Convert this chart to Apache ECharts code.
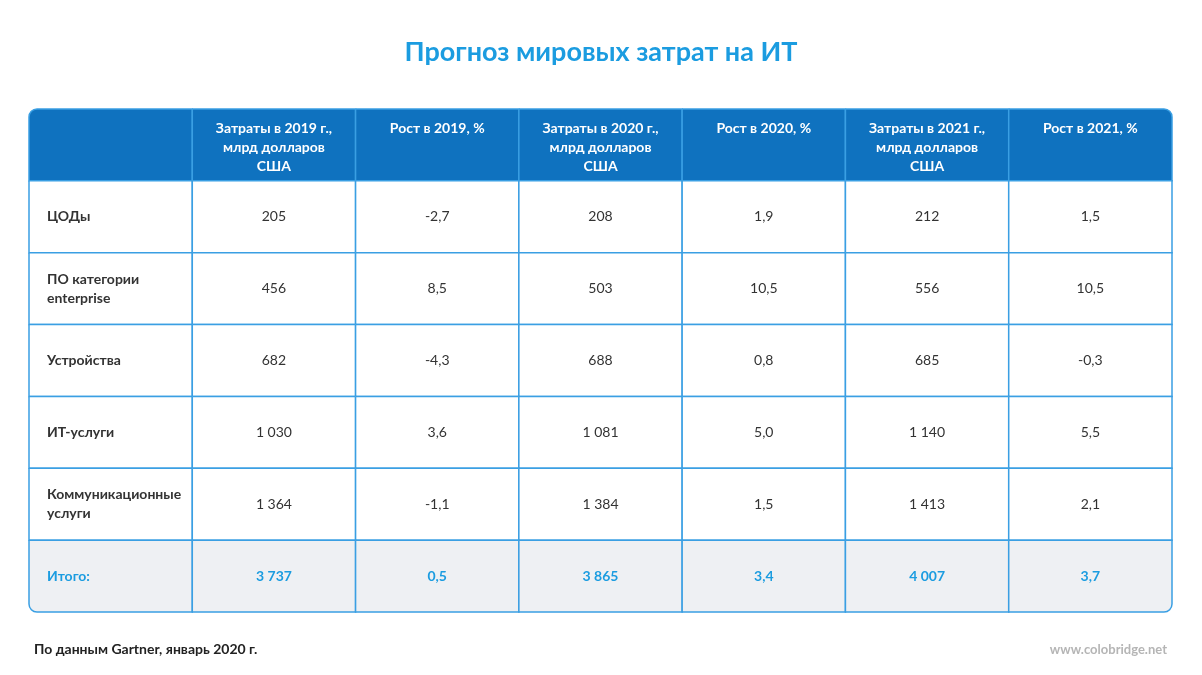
<!DOCTYPE html>
<html><head><meta charset="utf-8">
<script src="https://cdn.jsdelivr.net/npm/echarts@6/dist/echarts.min.js"></script>
<style>html,body{margin:0;padding:0;background:#fff}#c{width:1202px;height:675px}</style>
</head><body><div id="c"></div>
<script>
const headers = ['', 'Затраты в 2019 г.,\nмлрд долларов\nСША', 'Рост в 2019, %', 'Затраты в 2020 г.,\nмлрд долларов\nСША', 'Рост в 2020, %', 'Затраты в 2021 г.,\nмлрд долларов\nСША', 'Рост в 2021, %'];
const categories = ['ЦОДы', 'ПО категории\nenterprise', 'Устройства', 'ИТ-услуги', 'Коммуникационные\nуслуги', 'Итого:'];
const spend2019 = ['205', '456', '682', '1 030', '1 364', '3 737'];
const growth2019 = ['-2,7', '8,5', '-4,3', '3,6', '-1,1', '0,5'];
const spend2020 = ['208', '503', '688', '1 081', '1 384', '3 865'];
const growth2020 = ['1,9', '10,5', '0,8', '5,0', '1,5', '3,4'];
const spend2021 = ['212', '556', '685', '1 140', '1 413', '4 007'];
const growth2021 = ['1,5', '10,5', '-0,3', '5,5', '2,1', '3,7'];

const cols = [categories, spend2019, growth2019, spend2020, growth2020, spend2021, growth2021];
const nRows = categories.length + 1, nCols = headers.length;
const data = [];
headers.forEach((h, c) => data.push([c, 0, h]));
for (let r = 0; r < categories.length; r++)
  for (let c = 0; c < nCols; c++) data.push([c, r + 1, cols[c][r]]);

const BLUE = '#0f72bf', LINE = '#3a9fe3', ACC = '#1b9ce0';
const chart = echarts.init(document.getElementById('c'));
chart.setOption({
  animation: false,
  title: [
    {text: 'Прогноз мировых затрат на ИТ', left: 'center', top: 34,
     textStyle: {color: ACC, fontSize: 27, fontWeight: 'bold', fontFamily: 'Lato'}},
    {text: 'По данным Gartner, январь 2020 г.', left: 29, top: 637,
     textStyle: {color: '#222', fontSize: 14, fontWeight: 'bold', fontFamily: 'Lato'}},
    {text: 'www.colobridge.net', right: 30, top: 638,
     textStyle: {color: '#b5b5b5', fontSize: 13, fontWeight: 'bold', fontFamily: 'Lato'}}
  ],
  grid: {left: 29, right: 30, top: 109, bottom: 63},
  xAxis: {type: 'category', data: headers.map((_, i) => i), show: false},
  yAxis: {type: 'category', data: Array.from({length: nRows}, (_, i) => i), inverse: true, show: false},
  series: [{
    type: 'custom',
    data: data,
    renderItem: function (params, api) {
      const c = api.value(0), r = api.value(1);
      const p = api.coord([c, r]), s = api.size([1, 1]);
      const x = p[0] - s[0] / 2, y = p[1] - s[1] / 2, w = s[0], h = s[1];
      const text = data[params.dataIndex][2];
      const header = r === 0, total = r === nRows - 1, first = c === 0;
      const R = 8;
      let rad = [0, 0, 0, 0];
      if (r === 0 && c === 0) rad = [R, 0, 0, 0];
      if (r === 0 && c === nCols - 1) rad = [0, R, 0, 0];
      if (total && c === nCols - 1) rad = [0, 0, R, 0];
      if (total && c === 0) rad = [0, 0, 0, R];
      const fill = header ? BLUE : (total ? '#eef0f3' : '#fff');
      return {
        type: 'group',
        children: [
          {type: 'rect', shape: {x: x, y: y, width: w, height: h, r: rad},
           style: {fill: fill, stroke: LINE, lineWidth: 1.5}},
          {type: 'text',
           style: {
             text: text, x: first ? x + 18 : x + w / 2, y: header ? y + 10 : y + h / 2,
             align: first ? 'left' : 'center', verticalAlign: header ? 'top' : 'middle',
             fill: header ? '#fff' : (total ? ACC : '#333'),
             fontSize: 14, lineHeight: 19, fontFamily: 'Lato',
             fontWeight: (header || first || total) ? 'bold' : 'normal'
           }}
        ]
      };
    }
  }]
});
</script></body></html>
